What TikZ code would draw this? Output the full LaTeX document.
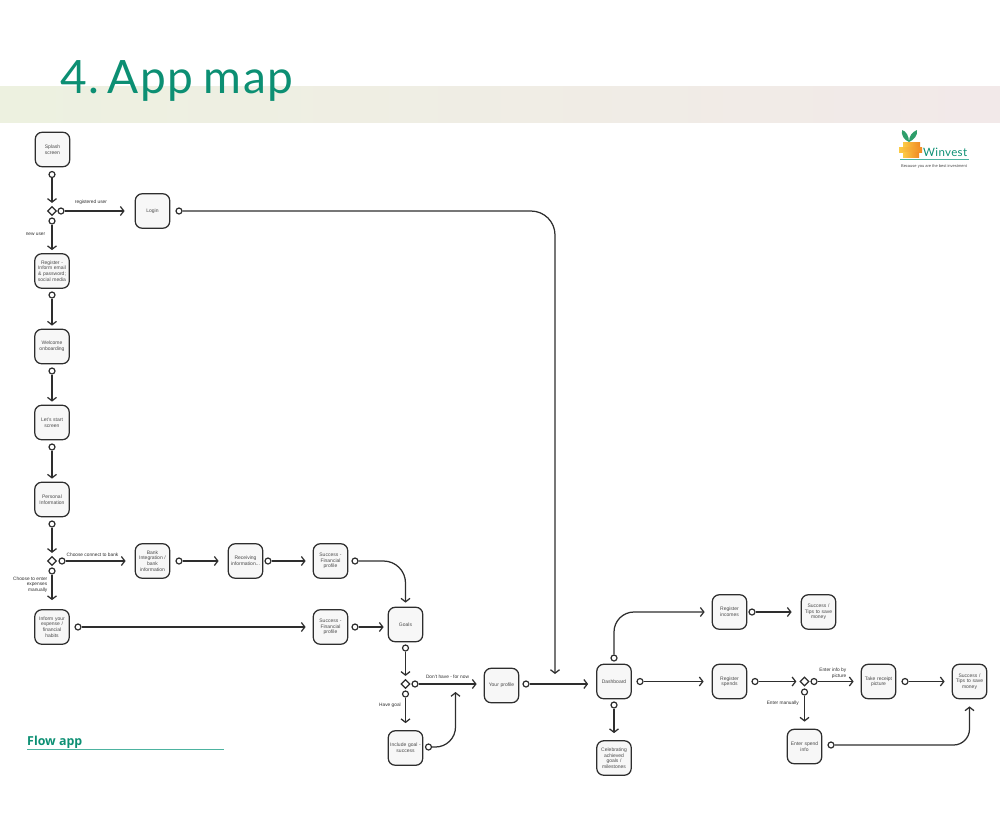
\documentclass[tikz,border=0pt]{standalone}
\usepackage{fontspec}
\setmainfont{Liberation Sans}
\newfontfamily\titlefont[LetterSpace=3.4,WordSpace=0.8]{Lato}
\newfontfamily\logofont[LetterSpace=3.0]{Lato}
\newfontfamily\headfont{Open Sans}
\usetikzlibrary{arrows.meta,positioning,shapes,calc}
\definecolor{ink}{HTML}{2E2E2E}
\definecolor{inkgray}{HTML}{4A4A4A}
\definecolor{paper}{HTML}{F7F7F7}
\definecolor{titlegreen}{HTML}{0C8F73}
\definecolor{tealline}{HTML}{4DB3A0}
\definecolor{bandleft}{HTML}{EDF1E0}
\definecolor{bandright}{HTML}{F2E9E9}
\definecolor{sprout}{HTML}{2E9E6B}
\definecolor{brickdark}{HTML}{F08A24}
\definecolor{bricklight}{HTML}{FCCB45}
\tikzset{
  screen/.style={draw=ink,fill=paper,line width=1.25pt,rounded corners=7pt,
                 minimum width=34.5pt,minimum height=34.5pt,inner sep=1pt,
                 text width=31pt,align=center,text=inkgray,
                 font=\fontsize{5}{5.6}\selectfont},
  port/.style={draw=ink,fill=white,line width=1.2pt,circle,
               inner sep=0pt,minimum size=6pt},
  choice/.style={draw=ink,fill=white,line width=1.2pt,diamond,
                 inner sep=0pt,minimum size=9pt},
  flowarr/.style={-{Straight Barb[length=3.5pt,width=9pt]},line width=1.25pt,color=ink},
  toscreen/.style={flowarr,shorten >=7pt},
  tochoice/.style={flowarr,shorten >=3pt},
  edgelabel/.style={font=\fontsize{4.8}{5.6}\selectfont,text=ink,inner sep=0pt,align=center}
}
\begin{document}
\begin{tikzpicture}[x=1pt,y=-1pt]
  \useasboundingbox (0,0) rectangle (1000,835);
  % header
  \shade[left color=bandleft,right color=bandright] (0,86) rectangle (1000,122);
  \node[anchor=base west,inner sep=0pt,text=titlegreen,font=\titlefont\fontsize{46}{46}\selectfont] (title) at (60,93) {4.\kern-7pt{} App map};
  \node[anchor=base west,inner sep=0pt,text=titlegreen,font=\headfont\fontsize{12.4}{13}\selectfont\bfseries] (flowapp) at (27,745) {Flow app};
  \fill[tealline] (27,748.7) rectangle (224,750.3);
  % logo
  \fill[sprout] (909,142) .. controls (909,136) and (906,131) .. (902,130) .. controls (901,135) and (904,140) .. (909,142);
  \fill[sprout] (909,142) .. controls (909,136) and (912,132) .. (917,130) .. controls (918,135) and (914,140) .. (909,142);
  \shade[left color=bricklight,right color=brickdark] (903,142) rectangle (920,147);
  \shade[left color=bricklight,right color=brickdark] (899,147) rectangle (922,152);
  \shade[left color=bricklight,right color=brickdark] (903,152) rectangle (919,157);
  \node[anchor=base west,inner sep=0pt,text=titlegreen,font=\logofont\fontsize{11.5}{12}\selectfont] (logoname) at (923,156) {Winvest};
  \fill[tealline] (900,159.2) rectangle (969,160);
  \node[inner sep=0pt,text=inkgray,font=\fontsize{4}{4.5}\selectfont] (logotag) at (934,166) {Because you are the best investment};

  % first column
  \node[screen] (splash) at (52.5,149.5) {Splash\\screen};
  \node[port] (splashout) at (52,174.5) {};
  \node[choice] (usersplit) at (52,211) {};
  \node[port] (userright) at (61,211) {};
  \node[port] (userdown) at (52,221) {};
  \node[screen] (login) at (152.5,211) {Login};
  \node[port] (loginout) at (179,211) {};
  \node[screen] (register) at (52,271) {Register -\\Inform email\\\& password;\\social media};
  \node[port] (registerout) at (52,295) {};
  \node[screen] (welcome) at (52,346.5) {Welcome\\onboarding};
  \node[port] (welcomeout) at (52,371) {};
  \node[screen] (letstart) at (52,422.5) {Let's start\\screen};
  \node[port] (letstartout) at (52,447) {};
  \node[screen] (personal) at (52,499.5) {Personal\\Information};
  \node[port] (personalout) at (52,524) {};
  \node[choice] (banksplit) at (52,561) {};
  \node[port] (bankright) at (62,561) {};
  \node[port] (bankdown) at (52,571) {};
  \node[screen] (inform) at (52,627) {Inform your\\expense /\\financial\\habits};
  \node[port] (informout) at (78,627) {};

  % bank row
  \node[screen] (bank) at (152.5,561) {Bank\\Integration /\\bank\\information};
  \node[port] (bankout) at (179,561) {};
  \node[screen] (receiving) at (245.5,561) {Receiving\\information...};
  \node[port] (receivingout) at (268,561) {};
  \node[screen] (successa) at (330.5,561) {Success -\\Financial\\profile};
  \node[port] (successaout) at (355,561) {};
  \node[screen] (successb) at (330.5,627) {Success -\\Financial\\profile};
  \node[port] (successbout) at (355,627) {};

  % goals
  \node[screen] (goals) at (405.5,624.5) {Goals};
  \node[port] (goalsout) at (405.5,648) {};
  \node[choice] (goalsplit) at (405.5,684) {};
  \node[port] (goalright) at (415,684) {};
  \node[port] (goaldown) at (405.5,694) {};
  \node[screen] (include) at (405.5,748) {Include goal -\\success};
  \node[port] (includeout) at (428.5,747) {};
  \node[screen] (profile) at (501.5,685.5) {Your profile};
  \node[port] (profileout) at (526,684) {};
  \coordinate (includeend) at (455.5,692);
  \coordinate (loginend) at (555,674);

  % dashboard
  \node[screen] (dashboard) at (614,681.5) {Dashboard};
  \node[port] (dashup) at (614,658) {};
  \node[port] (dashright) at (640,681.5) {};
  \node[port] (dashdown) at (614,705) {};
  \node[screen] (celebrate) at (614,758) {Celebrating\\achieved\\goals /\\milestones};
  \node[screen] (incomes) at (729.5,612) {Register\\incomes};
  \node[port] (incomesout) at (752,612) {};
  \node[screen] (successc) at (818.5,612) {Success /\\Tips to save\\money};
  \node[screen] (spends) at (729.5,681.5) {Register\\spends};
  \node[port] (spendsout) at (755,681.5) {};
  \node[choice] (spendsplit) at (804.5,681.5) {};
  \node[port] (spendright) at (814,681.5) {};
  \node[port] (spenddown) at (804.5,692) {};
  \node[screen] (receipt) at (878.5,681.5) {Take receipt\\picture};
  \node[port] (receiptout) at (905,681.5) {};
  \node[screen] (successd) at (969.5,681.5) {Success /\\Tips to save\\money};
  \node[screen] (enterinfo) at (804.5,746.5) {Enter spend\\info};
  \node[port] (enterout) at (831,745) {};

  % connectors
  \draw[flowarr,shorten >=3pt] (splashout)--(usersplit);
  \draw[toscreen,shorten >=10pt] (userright)--(login);
  \draw[tochoice] (userdown)--(register);
  \draw[flowarr,rounded corners=24pt] (loginout)-|(loginend);
  \draw[tochoice] (registerout)--(welcome);
  \draw[tochoice] (welcomeout)--(letstart);
  \draw[tochoice] (letstartout)--(personal);
  \draw[tochoice] (personalout)--(banksplit);
  \draw[toscreen,shorten >=9pt] (bankright)--(bank);
  \draw[toscreen,shorten >=9pt] (bankdown)--(inform);
  \draw[toscreen] (informout)--(successb);
  \draw[toscreen,shorten >=9pt] (bankout)--(receiving);
  \draw[toscreen] (receivingout)--(successa);
  \draw[toscreen,shorten >=4pt,rounded corners=22pt] (successaout)-|(goals);
  \draw[toscreen,shorten >=4pt] (successbout)--(goals.west|-successbout);
  \draw[tochoice] (goalsout)--(goalsplit);
  \draw[toscreen] (goalright)--(profile.west|-goalright);
  \draw[toscreen] (goaldown)--(include);
  \draw[flowarr,rounded corners=20pt] (includeout)-|(includeend);
  \draw[toscreen,shorten >=8pt] (profileout)--(dashboard.west|-profileout);
  \draw[toscreen,rounded corners=20pt] (dashup)|-(incomes);
  \draw[toscreen,shorten >=8pt] (dashright)--(spends);
  \draw[toscreen] (dashdown)--(celebrate);
  \draw[toscreen,shorten >=9pt] (incomesout)--(successc);
  \draw[flowarr,shorten >=3pt] (spendsout)--(spendsplit);
  \draw[toscreen,shorten >=7pt] (spendright)--(receipt);
  \draw[toscreen,shorten >=7pt] (spenddown)--(enterinfo);
  \draw[toscreen,shorten >=7pt] (receiptout)--(successd);
  \draw[toscreen,rounded corners=16pt] (enterout)-|(successd);

  % labels
  \node[edgelabel] (lblregistered) at (91,202) {registered user};
  \node[edgelabel] (lblnew) at (35.5,234) {new user};
  \node[edgelabel] (lblbank) at (92.5,554.5) {Choose connect to bank};
  \node[edgelabel,align=right,anchor=north east] (lblmanual) at (47.5,576.5) {Choose to enter\\expenses\\manually};
  \node[edgelabel] (lblnogoal) at (447.5,677) {Don't have - for now};
  \node[edgelabel] (lblgoal) at (390,705) {Have goal};
  \node[edgelabel,anchor=east] (lblentermanual) at (799,703) {Enter manually};
  \node[edgelabel,align=right,anchor=south east] (lblpicture) at (846.5,678.5) {Enter info by\\picture};
\end{tikzpicture}
\end{document}
